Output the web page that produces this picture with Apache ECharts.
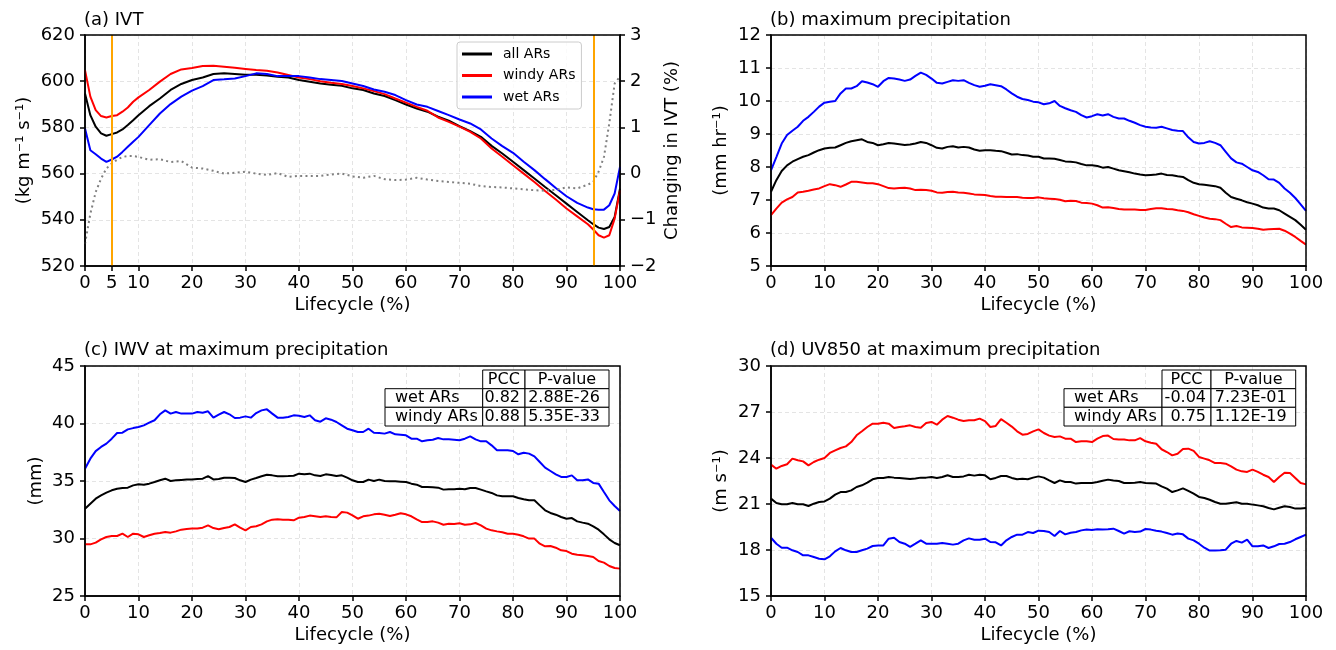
<!DOCTYPE html>
<html>
<head>
<meta charset="utf-8">
<title>AR lifecycle composites</title>
<script src="https://cdn.jsdelivr.net/npm/echarts@6.0.0/dist/echarts.min.js"></script>
<style>
html, body {margin:0; padding:0; background:#fff;}
#main {width:1336px; height:650px;}
</style>
</head>
<body>
<div id="main"></div>
<script>
// lifecycle positions (%)
var lifecycle = [0,1,2,3,4,5,6,7,8,9,10,11,12,13,14,15,16,17,18,19,20,21,22,23,24,25,26,27,28,29,30,31,32,33,34,35,36,37,38,39,40,41,42,43,44,45,46,47,48,49,50,51,52,53,54,55,56,57,58,59,60,61,62,63,64,65,66,67,68,69,70,71,72,73,74,75,76,77,78,79,80,81,82,83,84,85,86,87,88,89,90,91,92,93,94,95,96,97,98,99,100];
var lifecycleA = [0,1,2,3,4,5,6,7,8,9,10,12,14,16,18,20,22,24,26,28,30,32,34,36,38,40,42,44,46,48,50,52,54,56,58,60,62,64,66,68,70,72,74,76,78,80,82,84,86,88,90,92,94,95,96,97,98,99,100];
var ticksA = [0,5,10,20,30,40,50,60,70,80,90,95,100];
var markA = [5, 95];

// (a) IVT (kg m-1 s-1) and change in IVT (%)
var allA = [594.7,585.3,580.3,577.4,576.4,577.1,577.8,579.1,581.0,583.1,585.3,589.2,592.5,596.2,598.8,600.5,601.6,603.1,603.4,603.1,602.8,602.8,602.5,601.9,601.6,600.5,599.8,599.0,598.5,598.0,596.9,596.2,594.7,593.6,591.8,589.9,588.2,586.8,584.6,582.9,580.5,578.4,575.9,572.0,568.7,565.1,561.5,557.9,554.2,550.6,547.0,543.4,539.8,538.1,536.6,536.0,536.9,541.2,553.5];
var windyA = [604.8,593.3,587.5,584.9,584.3,584.9,585.3,586.8,588.6,591.1,593.0,596.2,599.8,603.1,605.1,605.7,606.6,606.7,606.3,605.8,605.3,604.8,604.5,603.8,602.7,601.6,600.9,600.0,599.3,598.8,597.9,596.9,595.7,594.4,592.5,590.7,588.9,587.2,584.3,582.4,580.3,578.1,575.2,570.9,567.3,563.6,560.0,556.4,552.5,548.8,544.9,541.5,538.1,535.8,533.3,532.3,533.3,540.5,552.8];
var wetA = [579.5,570.1,568.4,566.5,565.1,566.1,567.3,569.4,571.6,573.8,575.9,581.0,586.0,590.1,593.3,595.9,597.9,600.5,600.8,601.2,602.2,603.4,603.1,602.2,602.2,602.2,601.6,600.9,600.5,600.1,599.0,597.9,596.4,595.4,594.0,591.8,589.9,588.9,587.1,585.3,583.4,581.7,579.1,575.2,571.9,569.0,565.1,561.5,557.6,553.8,550.2,547.3,545.3,544.6,544.4,544.4,546.3,551.4,562.9];
var changeA = [-1.52,-0.87,-0.40,-0.11,0.11,0.22,0.30,0.36,0.38,0.38,0.36,0.30,0.31,0.25,0.27,0.13,0.11,0.06,0.00,0.02,0.04,0.00,-0.03,0.01,-0.07,-0.05,-0.05,-0.05,-0.02,0.00,-0.06,-0.09,-0.05,-0.12,-0.14,-0.13,-0.09,-0.13,-0.16,-0.18,-0.20,-0.22,-0.27,-0.29,-0.30,-0.32,-0.34,-0.36,-0.37,-0.35,-0.30,-0.32,-0.24,-0.18,0.04,0.36,1.09,1.95,2.10];

// (b) maximum precipitation (mm hr-1)
var allB = [7.25,7.60,7.88,8.05,8.16,8.24,8.31,8.36,8.44,8.51,8.56,8.58,8.59,8.66,8.73,8.78,8.81,8.84,8.76,8.73,8.66,8.69,8.73,8.71,8.69,8.67,8.68,8.71,8.76,8.73,8.66,8.58,8.56,8.61,8.63,8.59,8.61,8.59,8.53,8.49,8.51,8.51,8.49,8.48,8.43,8.38,8.39,8.36,8.35,8.31,8.31,8.26,8.26,8.25,8.21,8.17,8.16,8.14,8.09,8.05,8.05,8.03,7.98,8.00,7.95,7.90,7.87,7.84,7.80,7.77,7.75,7.76,7.77,7.80,7.76,7.75,7.72,7.70,7.60,7.52,7.48,7.46,7.44,7.42,7.37,7.22,7.09,7.04,6.99,6.93,6.89,6.84,6.77,6.74,6.74,6.69,6.59,6.49,6.39,6.25,6.10];
var windyB = [6.54,6.74,6.92,7.02,7.09,7.23,7.25,7.28,7.32,7.35,7.42,7.48,7.45,7.40,7.47,7.55,7.55,7.53,7.51,7.51,7.48,7.42,7.36,7.35,7.36,7.37,7.35,7.30,7.31,7.30,7.28,7.23,7.22,7.24,7.25,7.23,7.22,7.20,7.17,7.16,7.15,7.12,7.10,7.10,7.09,7.09,7.09,7.07,7.06,7.06,7.08,7.05,7.04,7.03,7.01,6.96,6.98,6.97,6.92,6.91,6.89,6.84,6.77,6.78,6.76,6.73,6.71,6.71,6.71,6.70,6.70,6.73,6.75,6.75,6.73,6.72,6.69,6.67,6.63,6.57,6.52,6.47,6.43,6.42,6.39,6.28,6.18,6.21,6.17,6.16,6.15,6.13,6.10,6.11,6.12,6.13,6.07,5.98,5.88,5.76,5.65];
var wetB = [7.90,8.30,8.71,8.97,9.10,9.22,9.40,9.52,9.67,9.83,9.95,9.98,10.00,10.23,10.38,10.38,10.45,10.60,10.56,10.51,10.43,10.60,10.70,10.68,10.65,10.61,10.65,10.76,10.86,10.79,10.68,10.55,10.53,10.58,10.63,10.61,10.63,10.55,10.48,10.43,10.46,10.51,10.48,10.45,10.35,10.23,10.13,10.06,10.03,9.98,9.96,9.90,9.93,10.00,9.85,9.78,9.72,9.67,9.57,9.50,9.54,9.60,9.56,9.60,9.52,9.47,9.47,9.40,9.34,9.27,9.22,9.20,9.19,9.22,9.17,9.12,9.10,9.09,8.90,8.76,8.71,8.73,8.78,8.73,8.66,8.46,8.26,8.14,8.10,8.00,7.90,7.85,7.75,7.63,7.62,7.52,7.35,7.22,7.06,6.87,6.67];

// (c) IWV at maximum precipitation (mm)
var allC = [32.59,33.03,33.46,33.75,33.99,34.19,34.33,34.39,34.42,34.62,34.71,34.68,34.77,34.91,35.06,35.20,35.00,35.06,35.09,35.12,35.14,35.17,35.20,35.43,35.14,35.17,35.29,35.29,35.26,35.06,34.91,35.12,35.26,35.41,35.55,35.49,35.41,35.41,35.43,35.46,35.64,35.58,35.64,35.49,35.43,35.58,35.52,35.43,35.49,35.29,35.06,34.91,34.91,35.12,35.00,35.12,35.00,34.97,34.97,34.94,34.91,34.77,34.68,34.48,34.48,34.45,34.42,34.25,34.28,34.28,34.33,34.28,34.39,34.39,34.25,34.10,33.96,33.75,33.67,33.67,33.67,33.52,33.41,33.32,33.32,32.88,32.45,32.22,32.07,31.87,31.72,31.78,31.49,31.38,31.29,31.06,30.77,30.36,29.93,29.61,29.41];
var windyC = [29.49,29.49,29.64,29.93,30.13,30.22,30.22,30.42,30.13,30.42,30.36,30.13,30.28,30.42,30.48,30.57,30.51,30.62,30.77,30.83,30.86,30.86,30.94,31.14,30.91,30.80,30.91,31.00,31.23,30.94,30.71,31.00,31.06,31.23,31.49,31.64,31.67,31.64,31.64,31.58,31.81,31.87,31.99,31.93,31.87,31.93,31.87,31.84,32.30,32.25,32.01,31.72,31.93,31.99,32.10,32.16,32.07,31.96,32.07,32.19,32.10,31.93,31.67,31.43,31.43,31.49,31.38,31.20,31.29,31.26,31.32,31.20,31.23,31.35,31.14,30.86,30.71,30.62,30.54,30.42,30.42,30.33,30.19,29.99,29.99,29.55,29.32,29.35,29.20,28.97,28.91,28.68,28.59,28.54,28.48,28.39,28.04,27.90,27.61,27.43,27.38];
var wetC = [36.07,36.94,37.60,37.96,38.25,38.68,39.17,39.20,39.49,39.60,39.70,39.84,40.07,40.28,40.80,41.14,40.86,41.00,40.86,40.86,40.86,41.00,40.94,41.06,40.51,40.77,41.00,40.80,40.48,40.51,40.62,40.51,40.91,41.14,41.23,40.86,40.51,40.51,40.57,40.71,40.68,40.57,40.71,40.28,40.16,40.45,40.33,40.13,39.84,39.55,39.41,39.26,39.26,39.55,39.20,39.17,39.12,39.26,39.06,39.03,38.97,38.68,38.68,38.45,38.54,38.59,38.74,38.62,38.62,38.59,38.54,38.68,38.88,38.62,38.45,38.45,38.10,37.67,37.67,37.67,37.61,37.32,37.46,37.38,37.14,36.65,36.16,35.87,35.58,35.35,35.35,35.49,35.06,35.06,35.14,34.83,34.77,34.04,33.32,32.83,32.39];

// (d) UV850 at maximum precipitation (m s-1)
var allD = [21.35,21.07,20.98,20.98,21.07,20.98,20.98,20.87,21.02,21.13,21.17,21.35,21.61,21.78,21.78,21.89,22.11,22.22,22.39,22.61,22.70,22.70,22.76,22.72,22.70,22.67,22.63,22.67,22.72,22.72,22.76,22.70,22.76,22.87,22.76,22.76,22.80,22.91,22.85,22.91,22.87,22.61,22.70,22.83,22.83,22.70,22.61,22.65,22.61,22.72,22.80,22.72,22.54,22.37,22.54,22.43,22.43,22.33,22.37,22.37,22.37,22.43,22.52,22.59,22.54,22.50,22.37,22.37,22.39,22.43,22.37,22.35,22.33,22.15,22.00,21.78,21.89,22.02,21.85,21.67,21.46,21.39,21.28,21.13,21.02,21.02,21.07,21.11,21.02,21.02,20.96,20.91,20.85,20.74,20.65,20.76,20.85,20.80,20.70,20.70,20.74];
var windyD = [23.57,23.30,23.48,23.59,23.96,23.85,23.78,23.52,23.74,23.89,24.00,24.33,24.50,24.65,24.76,25.04,25.48,25.74,26.02,26.24,26.24,26.30,26.24,25.96,26.02,26.07,26.13,26.02,25.98,26.28,26.35,26.17,26.50,26.74,26.63,26.50,26.41,26.46,26.46,26.57,26.41,26.02,26.09,26.54,26.30,26.05,25.74,25.52,25.57,25.74,25.87,25.63,25.46,25.37,25.41,25.26,25.26,25.04,25.09,25.09,25.04,25.26,25.43,25.46,25.24,25.20,25.20,25.15,25.15,25.30,25.09,25.00,24.93,24.57,24.39,24.17,24.28,24.59,24.61,24.46,24.07,23.96,23.85,23.67,23.67,23.63,23.46,23.24,23.13,23.09,23.24,23.09,22.91,22.76,22.43,22.76,23.04,23.02,22.70,22.37,22.28];
var wetD = [18.80,18.41,18.15,18.15,17.98,17.87,17.65,17.65,17.54,17.43,17.39,17.59,17.91,18.13,17.98,17.87,17.87,17.98,18.09,18.26,18.30,18.30,18.74,18.80,18.52,18.41,18.20,18.41,18.63,18.41,18.41,18.41,18.46,18.41,18.35,18.41,18.63,18.76,18.67,18.67,18.74,18.52,18.50,18.30,18.63,18.85,19.00,19.00,19.17,19.11,19.26,19.24,19.17,18.91,19.24,19.02,19.13,19.17,19.28,19.33,19.30,19.35,19.33,19.35,19.39,19.24,19.07,19.22,19.17,19.20,19.37,19.33,19.26,19.20,19.11,19.00,19.07,19.02,18.74,18.63,18.41,18.15,17.96,17.96,17.98,18.02,18.41,18.59,18.48,18.67,18.24,18.24,18.30,18.13,18.24,18.39,18.41,18.52,18.70,18.85,19.00];

// correlation tables
var tableRowNames = ['wet ARs', 'windy ARs'];
var tableHeader = ['PCC', 'P-value'];
var pccC = ['0.82', '0.88'];
var pvalC = ['2.88E-26', '5.35E-33'];
var pccD = ['-0.04', '0.75'];
var pvalD = ['7.23E-01', '1.12E-19'];

var FONT = 'DejaVu Sans';

// plot areas: left, top, width, height
var boxes = [[85, 35, 535, 231], [771, 35, 535, 231], [85, 366, 535, 230], [771, 366, 535, 230]];

var pairs = function(xs, ys){
    return xs.map(function(x, i){ return [x, ys[i]]; });
};

var lineSeries = function(name, color, xs, ys, k){
    return {
        name: name, type: 'line', xAxisIndex: k, yAxisIndex: k,
        data: pairs(xs, ys), symbol: 'none', showSymbol: false,
        lineStyle: {color: color, width: 2}, itemStyle: {color: color}, z: 3
    };
};

var makeX = function(k, ticks){
    var ax = {
        type: 'value', gridIndex: k, min: 0, max: 100, interval: 10,
        name: 'Lifecycle (%)', nameLocation: 'middle', nameGap: 30,
        nameTextStyle: {fontSize: 18, color: '#000', fontFamily: FONT},
        axisLine: {onZero: false, lineStyle: {color: '#000', width: 1.5}},
        axisTick: {show: true, length: 5, inside: false, lineStyle: {color: '#000', width: 1.5}},
        axisLabel: {fontSize: 18, color: '#000', margin: 8, fontFamily: FONT, hideOverlap: false,
            showMinLabel: true, showMaxLabel: true},
        splitLine: {show: true, lineStyle: {color: '#e4e4e4', type: [4, 3], width: 1}}
    };
    if (ticks) {
        ax.axisTick.customValues = ticks;
        ax.axisLabel.customValues = ticks;
    }
    return ax;
};

var makeY = function(k, name, min, max, step, gap, right){
    return {
        type: 'value', gridIndex: k, min: min, max: max, interval: step,
        position: right ? 'right' : 'left',
        name: name, nameLocation: 'middle', nameRotate: 90, nameGap: gap,
        nameTextStyle: {fontSize: 18, color: '#000', fontFamily: FONT},
        axisLine: {show: true, onZero: false, lineStyle: {color: '#000', width: 1.5}},
        axisTick: {show: true, length: 5, inside: false, lineStyle: {color: '#000', width: 1.5}},
        axisLabel: {fontSize: 18, color: '#000', margin: 10, fontFamily: FONT,
            showMinLabel: true, showMaxLabel: true,
            formatter: function(v){ return String(v).replace('-', '\u2212'); }},
        splitLine: {show: !right, lineStyle: {color: '#e4e4e4', type: [4, 3], width: 1}}
    };
};

/**
 * table of PCC / P-value drawn as graphic rects and texts
 */
var makeTable = function(cols, rows, pcc, pval){
    var els = [];
    var font = '16px "' + FONT + '"';
    var cell = function(x0, x1, y0, y1){
        els.push({type: 'rect', shape: {x: x0, y: y0, width: x1 - x0, height: y1 - y0},
            style: {fill: '#fff', stroke: '#000', lineWidth: 1}, z: 100});
    };
    var text = function(t, x, y, align){
        els.push({type: 'text', x: x, y: y, z: 101,
            style: {text: t, font: font, fill: '#000', align: align, verticalAlign: 'middle'}});
    };
    cell(cols[1], cols[2], rows[0], rows[1]);
    cell(cols[2], cols[3], rows[0], rows[1]);
    text(tableHeader[0], (cols[1] + cols[2]) / 2, (rows[0] + rows[1]) / 2, 'center');
    text(tableHeader[1], (cols[2] + cols[3]) / 2, (rows[0] + rows[1]) / 2, 'center');
    tableRowNames.forEach(function(nm, i){
        var y0 = rows[i + 1], y1 = rows[i + 2], yc = (y0 + y1) / 2;
        cell(cols[0], cols[1], y0, y1);
        cell(cols[1], cols[2], y0, y1);
        cell(cols[2], cols[3], y0, y1);
        text(nm, cols[0] + 10, yc, 'left');
        text(pcc[i], cols[2] - 5, yc, 'right');
        text(pval[i], cols[3] - 9, yc, 'right');
    });
    return els;
};

// black frame round every plot area (matplotlib spines)
var makeFrames = function(){
    return boxes.map(function(b){
        return {type: 'rect', shape: {x: b[0], y: b[1], width: b[2], height: b[3]},
            style: {fill: 'none', stroke: '#000', lineWidth: 1.5}, z: 90, silent: true};
    });
};

var drawChart = function(){
    var chart = echarts.init(document.getElementById('main'), null, {renderer: 'canvas'});

    var grids = boxes.map(function(b){
        return {left: b[0], top: b[1], width: b[2], height: b[3], containLabel: false};
    });

    var titleStyle = {fontSize: 18, fontWeight: 'normal', color: '#000', fontFamily: FONT};
    var titles = [
        {text: '(a) IVT', left: 84, top: 11},
        {text: '(b) maximum precipitation', left: 770, top: 11},
        {text: '(c) IWV at maximum precipitation', left: 84, top: 341},
        {text: '(d) UV850 at maximum precipitation', left: 770, top: 341}
    ].map(function(t){ t.padding = 0; t.textStyle = titleStyle; return t; });

    var gray = {
        name: 'change', type: 'line', xAxisIndex: 0, yAxisIndex: 4,
        data: pairs(lifecycleA, changeA), symbol: 'none', showSymbol: false, z: 4,
        lineStyle: {color: '#808080', width: 2, type: [2, 3.3]},
        itemStyle: {color: '#808080'},
        markLine: {
            silent: true, symbol: ['none', 'none'], label: {show: false},
            lineStyle: {color: '#ffa500', width: 2, type: 'solid'},
            data: markA.map(function(v){ return {xAxis: v}; })
        }
    };

    var option = {
        animation: false,
        backgroundColor: '#fff',
        textStyle: {fontFamily: FONT},
        title: titles,
        grid: grids,
        legend: {
            data: ['all ARs', 'windy ARs', 'wet ARs'],
            orient: 'vertical', left: 457, top: 42,
            itemWidth: 30, itemHeight: 3, itemGap: 7.5, icon: 'rect',
            padding: [5, 6, 5, 5], selectedMode: false,
            backgroundColor: 'rgba(255,255,255,0.8)', borderColor: '#cccccc', borderWidth: 1, borderRadius: 3,
            textStyle: {fontSize: 14, color: '#000', fontFamily: FONT, lineHeight: 14, padding: [0, 0, 0, 6]}
        },
        xAxis: [makeX(0, ticksA), makeX(1), makeX(2), makeX(3)],
        yAxis: [
            makeY(0, '(kg m\u207B\u00B9 s\u207B\u00B9)', 520, 620, 20, 52, false),
            makeY(1, '(mm hr\u207B\u00B9)', 5, 12, 1, 41, false),
            makeY(2, '(mm)', 25, 45, 5, 40, false),
            makeY(3, '(m s\u207B\u00B9)', 15, 30, 3, 41, false),
            makeY(0, 'Changing in IVT (%)', -2, 3, 1, 43, true)
        ],
        series: [
            lineSeries('all ARs', '#000000', lifecycleA, allA, 0),
            lineSeries('windy ARs', '#ff0000', lifecycleA, windyA, 0),
            lineSeries('wet ARs', '#0000ff', lifecycleA, wetA, 0),
            gray,
            lineSeries('all ARs', '#000000', lifecycle, allB, 1),
            lineSeries('windy ARs', '#ff0000', lifecycle, windyB, 1),
            lineSeries('wet ARs', '#0000ff', lifecycle, wetB, 1),
            lineSeries('all ARs', '#000000', lifecycle, allC, 2),
            lineSeries('windy ARs', '#ff0000', lifecycle, windyC, 2),
            lineSeries('wet ARs', '#0000ff', lifecycle, wetC, 2),
            lineSeries('all ARs', '#000000', lifecycle, allD, 3),
            lineSeries('windy ARs', '#ff0000', lifecycle, windyD, 3),
            lineSeries('wet ARs', '#0000ff', lifecycle, wetD, 3)
        ],
        graphic: makeFrames()
            .concat(makeTable([385, 482.7, 525, 609], [370, 388.7, 407.3, 426], pccC, pvalC))
            .concat(makeTable([1064, 1162, 1211, 1295.7], [370, 388.7, 407.3, 426], pccD, pvalD))
    };
    chart.setOption(option);
};

drawChart();
</script>
</body>
</html>
